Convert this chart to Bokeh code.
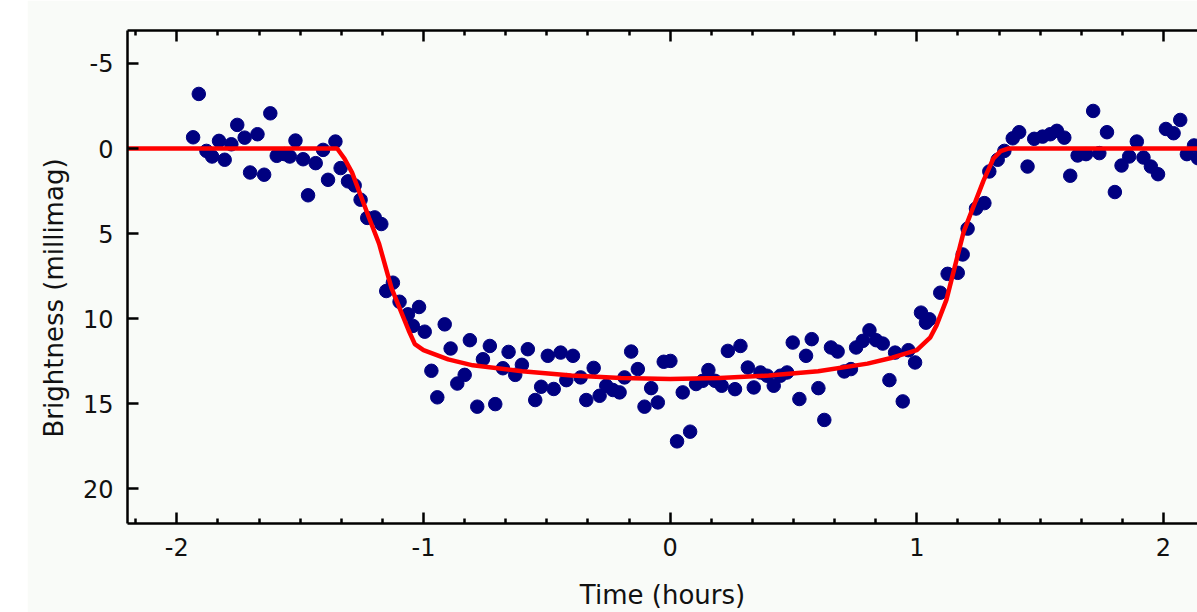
from bokeh.plotting import figure
from bokeh.models import Range1d, LinearAxis, FixedTicker, Spacer, PrintfTickFormatter, Title
from bokeh.layouts import row
from bokeh.embed import file_html
from bokeh.resources import INLINE

# Observed transit photometry
time_h = [-1.911, -1.934, -1.880, -1.857, -1.829, -1.806, -1.779, -1.755, -1.725, -1.703,
          -1.673, -1.646, -1.621, -1.595, -1.563, -1.542, -1.519, -1.488, -1.468, -1.437,
          -1.407, -1.387, -1.357, -1.336, -1.306, -1.279, -1.255, -1.228, -1.198, -1.171,
          -1.151, -1.124, -1.097, -1.063, -1.043, -1.018, -0.995, -0.968, -0.944, -0.914,
          -0.890, -0.863, -0.833, -0.812, -0.782, -0.759, -0.731, -0.709, -0.678, -0.655,
          -0.628, -0.601, -0.577, -0.547, -0.523, -0.496, -0.472, -0.444, -0.421, -0.394,
          -0.363, -0.340, -0.310, -0.286, -0.259, -0.232, -0.205, -0.185, -0.158, -0.131,
          -0.104, -0.077, -0.050, -0.026, 0.001, 0.028, 0.051, 0.081, 0.105, 0.132,
          0.155, 0.182, 0.209, 0.234, 0.263, 0.285, 0.315, 0.339, 0.366, 0.393,
          0.420, 0.447, 0.474, 0.497, 0.524, 0.551, 0.574, 0.601, 0.625, 0.652,
          0.679, 0.706, 0.733, 0.754, 0.781, 0.808, 0.835, 0.862, 0.889, 0.912,
          0.943, 0.966, 0.993, 1.017, 1.037, 1.051, 1.095, 1.125, 1.166, 1.186,
          1.206, 1.240, 1.274, 1.294, 1.328, 1.355, 1.389, 1.415, 1.449, 1.476,
          1.510, 1.541, 1.568, 1.598, 1.622, 1.652, 1.686, 1.715, 1.740, 1.771,
          1.803, 1.830, 1.861, 1.892, 1.919, 1.949, 1.978, 2.010, 2.041, 2.068,
          2.095, 2.124, 2.140]
brightness_mmag = [-3.21, -0.66, 0.14, 0.47, -0.45, 0.66, -0.25, -1.39, -0.64, 1.41,
                   -0.84, 1.54, -2.07, 0.43, 0.33, 0.47, -0.47, 0.63, 2.75, 0.86,
                   0.08, 1.84, -0.41, 1.15, 1.93, 2.17, 3.01, 4.08, 4.05, 4.44,
                   8.38, 7.89, 9.01, 9.75, 10.43, 9.32, 10.77, 13.07, 14.63, 10.34,
                   11.76, 13.82, 13.31, 11.27, 15.18, 12.39, 11.61, 15.03, 12.92, 11.96,
                   13.31, 12.72, 11.80, 14.79, 14.01, 12.19, 14.14, 12.00, 13.62, 12.19,
                   13.46, 14.79, 12.90, 14.54, 13.95, 14.20, 14.34, 13.46, 11.94, 12.97,
                   15.18, 14.09, 14.93, 12.54, 12.49, 17.22, 14.34, 16.65, 13.85, 13.66,
                   13.03, 13.66, 13.95, 11.90, 14.15, 11.61, 12.88, 14.05, 13.17, 13.36,
                   13.95, 13.36, 13.17, 11.41, 14.73, 12.19, 11.21, 14.09, 15.96, 11.70,
                   11.94, 13.11, 12.97, 11.70, 11.31, 10.69, 11.27, 11.47, 13.62, 12.00,
                   14.87, 11.86, 12.58, 9.65, 10.24, 10.04, 8.48, 7.37, 7.31, 6.23,
                   4.71, 3.53, 3.21, 1.35, 0.66, 0.14, -0.60, -0.96, 1.06, -0.57,
                   -0.70, -0.84, -1.04, -0.64, 1.60, 0.41, 0.33, -2.21, 0.27, -0.96,
                   2.56, 1.00, 0.47, -0.41, 0.53, 1.06, 1.51, -1.15, -0.90, -1.68,
                   0.33, -0.18, 0.57]

# Fitted transit model
model_time_h = [-2.2, -1.35, -1.32, -1.29, -1.22, -1.18, -1.13, -1.06, -1.035, -1.0,
                -0.9, -0.8, -0.6, -0.4, -0.2, 0.0, 0.2, 0.4, 0.6, 0.8,
                0.9, 1.0, 1.055, 1.08, 1.12, 1.19, 1.27, 1.31, 1.34, 1.37, 2.2]
model_mmag = [0.0, 0.0, 0.6, 1.4, 4.1, 5.6, 8.2, 10.7, 11.5, 11.85,
              12.4, 12.75, 13.1, 13.35, 13.5, 13.55, 13.5, 13.35, 13.1, 12.65,
              12.3, 11.85, 11.1, 10.4, 8.9, 4.9, 1.9, 0.6, 0.15, 0.0, 0.0]

x_ticks = [-2, -1, 0, 1, 2]
y_ticks = [-5, 0, 5, 10, 15, 20]
x_minor = [i / 6 for i in range(-14, 14) if i % 6 != 0]
x_title = "Time (hours)"
y_title = "Brightness (millimag)"

BG = "#f9fbf8"
FONT = "DejaVu Sans"
TXT = "#111111"

p = figure(width=1170, height=612, output_backend="svg", toolbar_location=None,
           x_range=Range1d(-2.2, 2.138), y_range=Range1d(22.05, -6.94),
           x_axis_location=None, y_axis_location=None,
           min_border_left=100, min_border_right=0, min_border_top=30, min_border_bottom=88)
p.background_fill_color = BG
p.border_fill_color = BG
p.outline_line_color = None
p.xgrid.grid_line_color = None
p.ygrid.grid_line_color = None

def style(ax):
    ax.axis_line_color = "black"
    ax.axis_line_width = 2.5
    ax.major_tick_line_color = "black"
    ax.major_tick_line_width = 2.5
    ax.minor_tick_line_color = "black"
    ax.minor_tick_line_width = 2.5
    ax.major_tick_in = 11
    ax.major_tick_out = 0
    ax.minor_tick_in = 5
    ax.minor_tick_out = 0
    ax.major_label_text_font = FONT
    ax.major_label_text_font_size = "24px"
    ax.major_label_text_color = TXT
    ax.axis_label_text_font = FONT
    ax.axis_label_text_font_size = "26px"
    ax.axis_label_text_font_style = "normal"
    ax.axis_label_text_color = TXT
    ax.formatter = PrintfTickFormatter(format="%d")

xt = FixedTicker(ticks=x_ticks, minor_ticks=x_minor)
yt = FixedTicker(ticks=y_ticks, minor_ticks=[])

xb = LinearAxis(ticker=xt, axis_label=x_title)
style(xb)
xb.major_label_standoff = 14
xb.axis_label_standoff = 21
p.add_layout(xb, "below")

xa = LinearAxis(ticker=xt)
style(xa)
xa.major_label_standoff = 0
xa.major_label_overrides = {t: "" for t in x_ticks}
p.add_layout(xa, "above")

yl = LinearAxis(ticker=yt)
style(yl)
yl.major_label_standoff = 14
p.add_layout(yl, "left")

# y-axis title, shifted down along the axis like in the reference
yt_title = Title(text=y_title, align="left", offset=86, vertical_align="top",
                 standoff=18, text_font=FONT, text_font_size="26px",
                 text_font_style="normal", text_color=TXT)
p.add_layout(yt_title, "left")

p.scatter(time_h, brightness_mmag, size=13.5, color="#000080", line_color="#000080")
p.line(model_time_h, model_mmag, line_color="#ff0000", line_width=4.5)

layout = row(Spacer(width=27, height=612), p)
open("out.html", "w").write(file_html(layout, INLINE))
